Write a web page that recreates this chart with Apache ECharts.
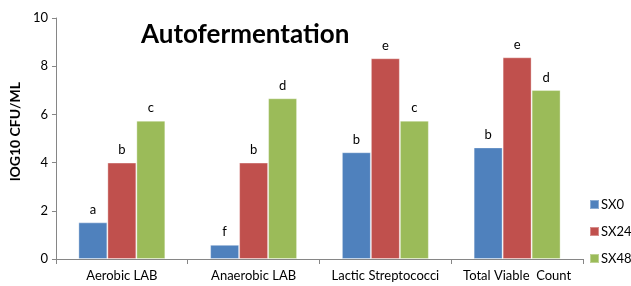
<!DOCTYPE html>
<html>
<head>
<meta charset="utf-8">
<script src="https://cdn.jsdelivr.net/npm/echarts@6/dist/echarts.min.js"></script>
<style>
  html, body { margin: 0; padding: 0; background: #fff; }
  #chart { width: 631px; height: 286px; }
</style>
</head>
<body>
<div id="chart"></div>
<script>
var categories = ['Aerobic LAB', 'Anaerobic LAB', 'Lactic Streptococci', 'Total Viable  Count'];
var sx0 = [1.52, 0.59, 4.43, 4.63];
var sx24 = [4.0, 4.0, 8.33, 8.37];
var sx48 = [5.74, 6.67, 5.74, 7.01];
var sx0Letters = ['a', 'f', 'b', 'b'];
var sx24Letters = ['b', 'b', 'e', 'e'];
var sx48Letters = ['c', 'd', 'c', 'd'];

var font = 'Lato, "Open Sans", sans-serif';

function makeSeries(name, values, letters, color) {
  return {
    name: name,
    type: 'bar',
    barGap: '0%',
    barCategoryGap: '34%',
    data: values,
    itemStyle: { color: color, borderColor: 'rgba(255,255,255,0.35)', borderWidth: 1 },
    label: {
      show: true,
      position: 'top',
      distance: 6,
      fontFamily: font,
      fontSize: 13,
      color: '#000',
      formatter: function (p) { return letters[p.dataIndex]; }
    }
  };
}

var chart = echarts.init(document.getElementById('chart'));
chart.setOption({
  animation: false,
  title: {
    text: 'Autofermentation',
    left: 136,
    top: 17,
    textStyle: { fontFamily: font, fontSize: 26, fontWeight: 'bold', color: '#000' }
  },
  legend: {
    orient: 'vertical',
    left: 584,
    top: 193,
    itemWidth: 9,
    itemHeight: 9,
    itemGap: 14,
    icon: 'rect',
    textStyle: { fontFamily: font, fontSize: 13, color: '#000', padding: [0, 0, 0, -3] },
    data: ['SX0', 'SX24', 'SX48']
  },
  grid: { left: 52, right: 48, top: 18, bottom: 27 },
  xAxis: {
    type: 'category',
    data: categories,
    axisLine: { lineStyle: { color: '#868686' } },
    axisTick: { show: true, length: 5, interval: 0, alignWithLabel: false, lineStyle: { color: '#868686' } },
    axisLabel: { interval: 0, fontFamily: font, fontSize: 13, color: '#000', margin: 10 }
  },
  yAxis: {
    type: 'value',
    min: 0,
    max: 10,
    interval: 2,
    name: 'lOG10 CFU/ML',
    nameLocation: 'middle',
    nameGap: 30,
    nameRotate: 90,
    nameTextStyle: { fontFamily: font, fontSize: 14, fontWeight: 'bold', color: '#000', padding: [0, 0, 0, 14] },
    splitLine: { show: false },
    axisLine: { show: true, lineStyle: { color: '#868686' } },
    axisTick: { show: true, length: 4, lineStyle: { color: '#868686' } },
    axisLabel: { fontFamily: font, fontSize: 13, color: '#000', margin: 8 }
  },
  series: [
    makeSeries('SX0', sx0, sx0Letters, '#4F81BD'),
    makeSeries('SX24', sx24, sx24Letters, '#C0504D'),
    makeSeries('SX48', sx48, sx48Letters, '#9BBB59')
  ]
});
</script>
</body>
</html>
